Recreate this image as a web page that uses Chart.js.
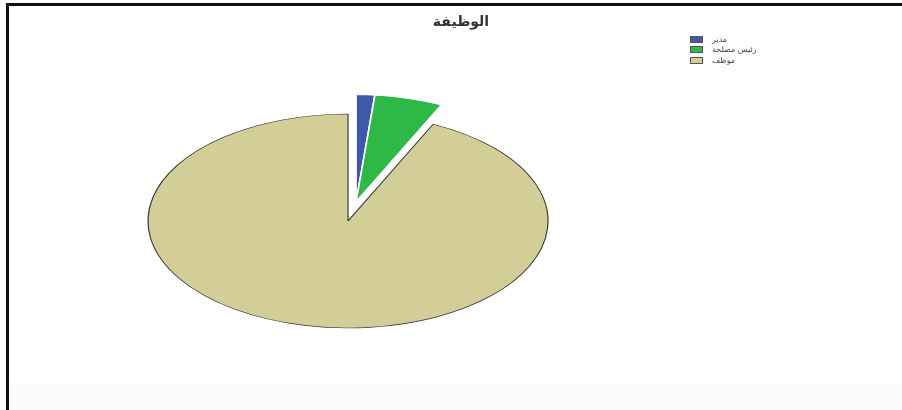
<!DOCTYPE html>
<html>
<head>
<meta charset="utf-8">
<script src="https://cdn.jsdelivr.net/npm/chart.js@4.4.1/dist/chart.umd.min.js"></script>
<style>
  html, body { margin: 0; padding: 0; background: #fff; }
  body { width: 902px; height: 410px; position: relative; overflow: hidden; font-family: "DejaVu Sans", sans-serif; }
  #wrap { position: absolute; left: 0; top: 0; width: 902px; height: 410px; }
  #frame { position: absolute; left: 6px; top: 3px; right: 0; bottom: 0;
           border-top: 3px solid #111; border-left: 3px solid #111; pointer-events: none; }
  #band { position: absolute; left: 9px; right: 0; top: 383px; bottom: 0; background: #fbfbfb; }
  #title { position: absolute; top: 13px; left: 401px; width: 120px; text-align: center;
           font-weight: bold; font-size: 14px; color: #333; }
  #legend { position: absolute; left: 690px; top: 34px; font-size: 8px; color: #444; }
  .row { height: 10.5px; display: flex; align-items: center; }
  .sw { width: 13px; height: 7px; margin-right: 9px; box-sizing: border-box; border: 1px solid #555; }
</style>
</head>
<body>
<div id="band"></div>
<div id="wrap"><canvas id="pie" width="902" height="410"></canvas></div>
<div id="frame"></div>
<div id="title"></div>
<div id="legend"></div>
<script>
// ---------------- DATA ----------------
const chartTitle = 'الوظيفة';
const labels = ['مدير', 'رئيس مصلحة', 'موظف'];
const counts = [3, 11, 186];
const colors = ['#3E58AC', '#2EB848', '#D3CE97'];
const exploded = [true, true, false];

// SPSS style: flattened pie, exploded slices pulled out together
const PIE_RADIUS = 200;
const PIE_SQUASH = 107 / 200;
const EXPLODE = 37;

document.getElementById('title').textContent = chartTitle;

// legend (html)
const leg = document.getElementById('legend');
labels.forEach((l, i) => {
  const row = document.createElement('div');
  row.className = 'row';
  row.innerHTML = `<span class="sw" style="background:${colors[i]}"></span><span>${l}</span>`;
  leg.appendChild(row);
});

// move the exploded group out along its common mid angle
const explodePlugin = {
  id: 'explode',
  afterDatasetsUpdate(chart) {
    const arcs = chart.getDatasetMeta(0).data.filter((a, i) => exploded[i]);
    if (!arcs.length) return;
    const start = Math.min(...arcs.map(a => a.startAngle));
    const end = Math.max(...arcs.map(a => a.endAngle));
    const mid = (start + end) / 2;
    arcs.forEach(arc => {
      arc.x += Math.cos(mid) * EXPLODE;
      arc.y += Math.sin(mid) * EXPLODE;
    });
  }
};

// squash the pie vertically into an ellipse
const ellipsePlugin = {
  id: 'ellipse',
  beforeDatasetsDraw(chart) {
    const a = chart.chartArea;
    const cx = (a.left + a.right) / 2;
    const cy = (a.top + a.bottom) / 2;
    const ctx = chart.ctx;
    ctx.save();
    ctx.translate(cx, cy);
    ctx.scale(1, PIE_SQUASH);
    ctx.translate(-cx, -cy);
  },
  afterDatasetsDraw(chart) {
    chart.ctx.restore();
  }
};

new Chart(document.getElementById('pie'), {
  type: 'pie',
  data: {
    labels: labels,
    datasets: [{
      data: counts,
      backgroundColor: colors,
      borderColor: exploded.map(e => e ? '#ffffff' : '#3a3a3a'),
      borderWidth: exploded.map(e => e ? 1.6 : 1.2),
      clip: false
    }]
  },
  options: {
    responsive: false,
    animation: false,
    radius: PIE_RADIUS,
    layout: { padding: { left: 0, right: 206, top: 32, bottom: 0 } },
    plugins: {
      legend: { display: false },
      title: { display: false },
      tooltip: { enabled: false }
    }
  },
  plugins: [explodePlugin, ellipsePlugin]
});
</script>
</body>
</html>
